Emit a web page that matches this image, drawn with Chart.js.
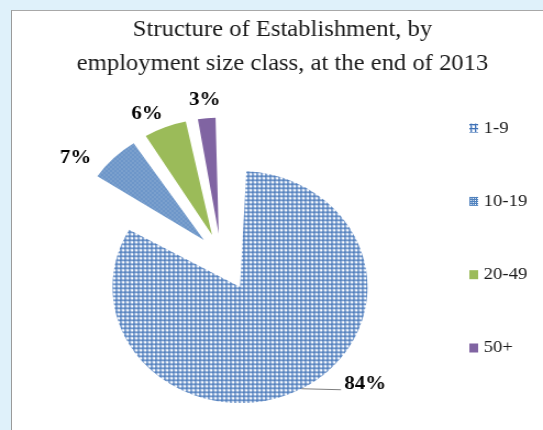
<!DOCTYPE html>
<html>
<head>
<meta charset="utf-8">
<script src="https://cdn.jsdelivr.net/npm/chart.js@4.4.1/dist/chart.umd.min.js"></script>
<style>
  html, body { margin: 0; padding: 0; }
  body { width: 543px; height: 430px; background: #dff1fa; position: relative; overflow: hidden; }
  #frame { position: absolute; left: 11px; top: 10px; right: 0; bottom: 0; background: #fff;
           border-left: 1.5px solid #9a9a9a; border-top: 1px solid #a8a8a8; }
  #chart { position: absolute; left: 0; top: 0; }
</style>
</head>
<body>
<div id="frame"></div>
<!-- drawn at 494px wide, shown at 543px: the original picture is stretched sideways -->
<canvas id="chart" width="494" height="430" style="width:543px;height:430px"></canvas>
<script>
const categories = ["1-9", "10-19", "20-49", "50+"];
const shares = [84, 7, 6, 3];
const chartTitle = ["Structure of Establishment, by", "employment size class, at the end of 2013"];

const PIE_RADIUS = 116;
const explode = [144, 88, 88, 88]; // chart.js moves a slice by offset/4
const serif = '"Liberation Serif", "Times New Roman", serif';

// where each percent label sits, relative to the slice middle
const labelPlacement = [
  { leader: 36 },
  { turn: -8.7, dist: 164 },
  { turn: -3.8, dist: 157 },
  { turn: 0, dist: 156 },
];

const canvas = document.getElementById("chart");
const ctx = canvas.getContext("2d");

function gridPattern(color, soft) {
  const c = document.createElement("canvas");
  c.width = 4;
  c.height = 4;
  const g = c.getContext("2d");
  g.fillStyle = "#fff";
  g.fillRect(0, 0, 4, 4);
  g.fillStyle = soft;
  g.fillRect(0, 1, 4, 1);
  g.fillRect(1, 0, 1, 4);
  g.fillStyle = color;
  g.fillRect(0, 0, 4, 1);
  g.fillRect(0, 0, 1, 4);
  return ctx.createPattern(c, "repeat");
}

function dotPattern(color) {
  const c = document.createElement("canvas");
  c.width = 4;
  c.height = 4;
  const g = c.getContext("2d");
  g.fillStyle = color;
  g.fillRect(0, 0, 4, 4);
  g.fillStyle = "#fff";
  g.fillRect(0, 0, 1, 1);
  g.fillRect(2, 2, 1, 1);
  g.fillStyle = "#c9d8ee";
  g.fillRect(2, 0, 1, 1);
  g.fillRect(0, 2, 1, 1);
  return ctx.createPattern(c, "repeat");
}

const fills = [gridPattern("#3f72b6", "#b7cbe8"), dotPattern("#4f81bd"), "#9bbb59", "#8064a2"];

// chart.js grows an exploded slice's radius, put it back to one size
const keepRadius = {
  id: "keepRadius",
  afterDatasetsUpdate(chart) {
    chart.getDatasetMeta(0).data.forEach((arc) => {
      const shift = (arc.options.offset || 0) / 4;
      const fix = 1 - Math.sin(Math.min(Math.PI, arc.circumference));
      arc.outerRadius = PIE_RADIUS - shift * fix;
    });
  },
};

const sliceLabels = {
  id: "sliceLabels",
  afterDatasetsDraw(chart) {
    const c = chart.ctx;
    c.save();
    c.font = "bold 19px " + serif;
    c.fillStyle = "#000";
    c.textBaseline = "middle";
    chart.getDatasetMeta(0).data.forEach((arc, i) => {
      const mid = (arc.startAngle + arc.endAngle) / 2;
      const place = labelPlacement[i];
      const text = shares[i] + "%";
      if (place.leader) {
        const shift = (arc.options.offset || 0) / 4;
        const ex = arc.x + Math.cos(mid) * (shift + PIE_RADIUS);
        const ey = arc.y + Math.sin(mid) * (shift + PIE_RADIUS);
        c.strokeStyle = "#7f7f7f";
        c.lineWidth = 1;
        c.beginPath();
        c.moveTo(ex, ey);
        c.lineTo(ex + place.leader, ey + 1);
        c.stroke();
        c.textAlign = "left";
        c.fillText(text, ex + place.leader + 3, ey - 5);
      } else {
        const a = mid + (place.turn * Math.PI) / 180;
        c.textAlign = "center";
        c.fillText(text, arc.x + Math.cos(a) * place.dist, arc.y + Math.sin(a) * place.dist);
      }
    });
    c.restore();
  },
};

// legend as a layout box on the right, so the title stays centred on the whole chart
const sideLegend = {
  id: "sideLegend",
  beforeInit(chart) {
    const box = {
      position: "right",
      weight: 0,
      fullSize: false,
      options: { display: true },
      left: 0, top: 0, right: 0, bottom: 0, width: 0, height: 0,
      isHorizontal() {
        return false;
      },
      update(maxWidth, maxHeight) {
        box.width = 112;
        box.height = maxHeight;
      },
      draw() {
        const c = chart.ctx;
        const area = chart.chartArea;
        c.save();
        c.font = "17px " + serif;
        c.textBaseline = "middle";
        c.textAlign = "left";
        categories.forEach((name, i) => {
          const y = area.top + 47 + i * 73.3;
          c.fillStyle = fills[i];
          c.fillRect(area.right + 45, y - 4.5, 8, 9);
          c.fillStyle = "#1a1a1a";
          c.fillText(name, area.right + 58, y);
        });
        c.restore();
      },
    };
    Chart.layouts.addBox(chart, box);
  },
};

new Chart(ctx, {
  type: "pie",
  data: {
    labels: categories,
    datasets: [
      {
        data: shares,
        backgroundColor: fills,
        borderWidth: 0,
        offset: explode,
      },
    ],
  },
  options: {
    responsive: false,
    animation: false,
    radius: PIE_RADIUS,
    layout: { padding: { left: 20, right: 0, top: 0, bottom: 0 } },
    plugins: {
      legend: { display: false },
      tooltip: { enabled: false },
      title: {
        display: true,
        text: chartTitle,
        color: "#1a1a1a",
        font: { family: serif, size: 22.4, weight: "normal", lineHeight: 1.52 },
        padding: { top: 13, bottom: 0 },
      },
    },
  },
  plugins: [sideLegend, keepRadius, sliceLabels],
});
</script>
</body>
</html>
